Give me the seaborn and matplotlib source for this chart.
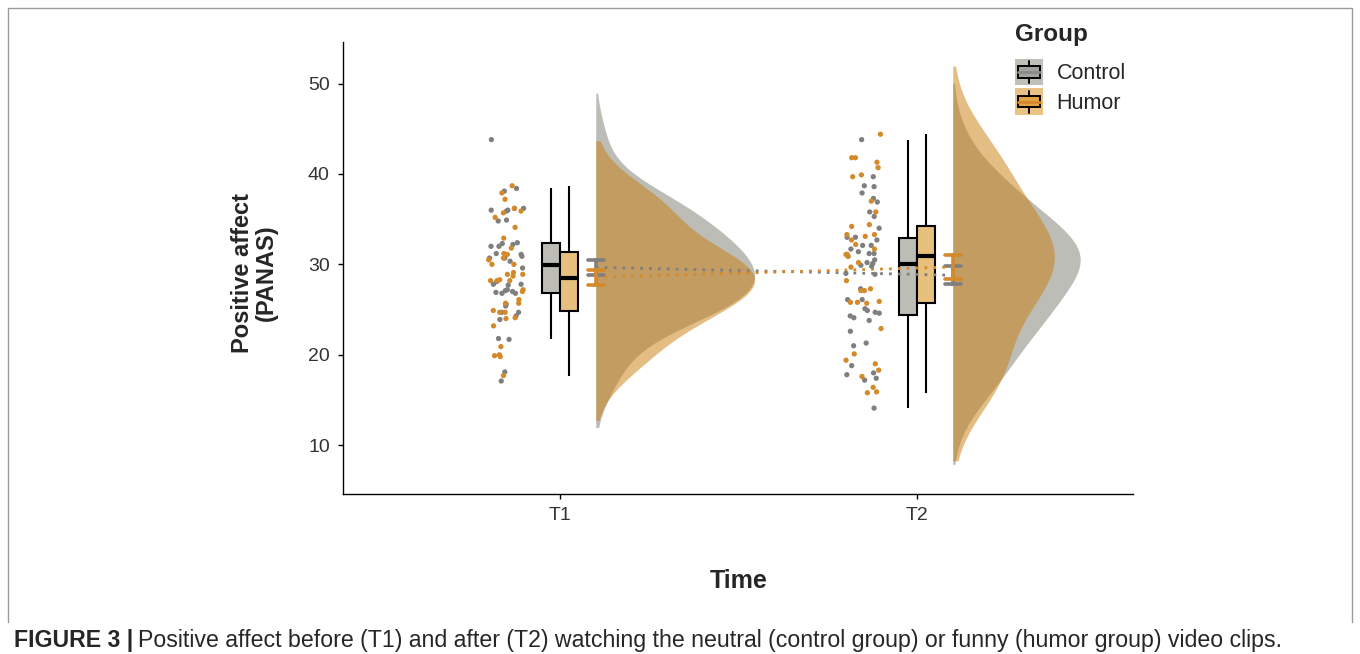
import numpy as np
import pandas as pd
import matplotlib
matplotlib.use("Agg")
import matplotlib.pyplot as plt
from matplotlib.legend_handler import HandlerBase
from matplotlib.patches import Rectangle, Patch
from matplotlib.lines import Line2D
import seaborn as sns

# ------------------------------------------
# Data (PANAS positive affect)
# ------------------------------------------
times = ["T1", "T2"]
groups = ["Control", "Humor"]

control_t1 = [43.8, 38.4, 38.1, 36.2, 36.2, 36.0, 35.9, 36.0, 34.8, 34.9, 32.2,
              32.4, 32.3, 32.0, 32.0, 31.1, 31.2, 30.7, 30.9, 30.7, 30.35, 29.6,
              28.1, 27.7, 27.8, 27.8, 27.2, 26.8, 27.0, 27.1, 26.9, 25.6, 26.8,
              25.4, 24.7, 24.7, 24.3, 23.9, 21.7, 21.8, 18.1, 17.1]
humor_t1 = [38.7, 37.9, 37.2, 36.2, 35.7, 35.9, 35.2, 34.1, 32.9, 31.2, 31.8,
            31.1, 30.7, 30.5, 30.0, 30.0, 28.9, 29.1, 28.9, 28.7, 28.2, 28.3,
            28.2, 28.2, 27.2, 27.0, 26.1, 25.7, 25.7, 24.9, 24.7, 24.7, 24.1,
            24.0, 23.2, 20.9, 19.8, 20.0, 19.9, 17.7]
control_t2 = [43.8, 39.7, 38.6, 38.7, 37.9, 37.3, 36.9, 35.8, 35.3, 34.0, 33.0,
              32.7, 33.0, 32.1, 31.2, 32.1, 31.7, 31.2, 30.9, 31.4, 30.5, 29.9,
              30.2, 29.8, 28.9, 30.1, 29.0, 27.3, 26.1, 26.1, 25.1, 24.9, 24.7,
              24.6, 24.3, 24.1, 23.8, 22.6, 21.0, 21.3, 18.8, 18.0, 17.4, 17.8,
              17.2, 14.1]
humor_t2 = [44.4, 41.8, 41.8, 41.3, 40.7, 39.7, 39.9, 37.0, 35.8, 34.2, 34.4,
            33.3, 33.1, 32.7, 33.3, 32.2, 31.7, 31.1, 31.1, 30.2, 30.9, 29.7,
            28.2, 27.1, 27.3, 27.1, 25.8, 25.8, 25.7, 25.9, 22.9, 20.1, 19.4,
            19.0, 18.3, 17.6, 16.4, 15.9, 15.8]

y_ticks = [10, 20, 30, 40, 50]

# colours
dot_colors = {"Control": "#7f7f7f", "Humor": "#d4892a"}
box_colors = {"Control": "#bdbdb6", "Humor": "#e6c07c"}
cloud_colors = {"_a": "white", "Control": "#7d7d70", "_b": "white", "Humor": "#c87d0a"}

# ------------------------------------------
# Long table
# ------------------------------------------
series = {("T1", "Control"): control_t1, ("T1", "Humor"): humor_t1,
          ("T2", "Control"): control_t2, ("T2", "Humor"): humor_t2}
rows = []
for (t, g), vals in series.items():
    for v in vals:
        rows.append({"time": t, "tpos": times.index(t), "group": g, "value": v})
data = pd.DataFrame(rows)

cloud_w = 0.445
data["strip_x"] = data["tpos"] - 0.15
data["mean_x"] = data["tpos"] + 0.10
data["cloud_x"] = data["tpos"] + 0.10 + cloud_w / 2

# ------------------------------------------
# Figure
# ------------------------------------------
sns.set_style("ticks")
plt.rcParams["font.family"] = ["Liberation Sans", "DejaVu Sans"]
plt.rcParams["lines.dotted_pattern"] = [1, 2.2]

fig = plt.figure(figsize=(13.6, 6.54), dpi=100)
ax = fig.add_axes([343 / 1360, 1 - 494 / 654, 790 / 1360, 452 / 654])

# half violins (clouds), both on the right side
sns.violinplot(data=data, x="cloud_x", y="value", hue="group",
               hue_order=["_a", "Control", "_b", "Humor"], palette=cloud_colors,
               split=True, dodge=False, native_scale=True, inner=None,
               linewidth=0, width=cloud_w, density_norm="area", cut=1.7,
               bw_adjust=1.15, saturation=1, alpha=0.5, legend=False, ax=ax)

# boxes
sns.boxplot(data=data, x="tpos", y="value", hue="group", hue_order=groups,
            palette=box_colors, native_scale=True, width=0.1, dodge=True,
            showfliers=False, showcaps=False, saturation=1,
            linecolor="black", linewidth=1.5,
            medianprops={"linewidth": 3}, legend=False, ax=ax)

# raw points
np.random.seed(7)
sns.stripplot(data=data, x="strip_x", y="value", hue="group", hue_order=groups,
              palette=dot_colors, native_scale=True, jitter=0.05, dodge=False,
              size=3.8, linewidth=0, legend=False, ax=ax)

# means +/- SE with dotted connecting lines
sns.pointplot(data=data, x="mean_x", y="value", hue="group", hue_order=groups,
              palette=dot_colors, native_scale=True, dodge=False,
              errorbar="se", capsize=0.045, markers="", linestyles=":",
              linewidth=2, err_kws={"linewidth": 2.6, "linestyle": "-"},
              legend=False, ax=ax)

ax.set_xlim(-0.608, 1.605)
ax.set_ylim(4.6, 54.6)
ax.set_xticks([0, 1])
ax.set_xticklabels(times)
ax.set_yticks(y_ticks)
ax.set_xlabel("")
ax.set_ylabel("")
sns.despine(ax=ax)
for s in ["left", "bottom"]:
    ax.spines[s].set_color("black")
    ax.spines[s].set_linewidth(1.0)
ax.tick_params(axis="both", length=3.5, width=1.0, color="black",
               labelsize=14, labelcolor="#333333", pad=6)

fig.text(254 / 1360, 1 - 273 / 654, "Positive affect\n(PANAS)", rotation=90,
         ha="center", va="center", fontsize=17, fontweight="bold",
         linespacing=1.05, multialignment="center")
fig.text(739 / 1360, 1 - 581 / 654, "Time", ha="center", va="center",
         fontsize=18, fontweight="bold")


# ------------------------------------------
# Legend with box-style keys
# ------------------------------------------
class BoxKey(HandlerBase):
    def __init__(self, bg, fill, line):
        super().__init__()
        self.bg, self.fill, self.line = bg, fill, line

    def create_artists(self, legend, orig_handle, xdescent, ydescent,
                       width, height, fontsize, trans):
        x0, y0 = -xdescent, -ydescent
        bg = Rectangle((x0, y0), width, height, facecolor=self.bg,
                       edgecolor="none", transform=trans)
        bw, bh = width * 0.8, height * 0.45
        bx, by = x0 + (width - bw) / 2, y0 + (height - bh) / 2
        box = Rectangle((bx, by), bw, bh, facecolor=self.fill,
                        edgecolor="black", lw=1.4, transform=trans)
        cx = x0 + width / 2
        w1 = Line2D([cx, cx], [y0 + height * 0.08, by], color="black", lw=1.4, transform=trans)
        w2 = Line2D([cx, cx], [by + bh, y0 + height * 0.92], color="black", lw=1.4, transform=trans)
        med = Line2D([bx, bx + bw], [y0 + height / 2] * 2, color=self.line, lw=2, transform=trans)
        return [bg, box, w1, w2, med]


h_c = Patch(label="Control")
h_h = Patch(label="Humor")
leg = fig.legend(handles=[h_c, h_h], labels=groups, title="Group",
                 loc="upper left", bbox_to_anchor=(1004 / 1360, 1 - 12 / 654),
                 frameon=False, fontsize=15.5,
                 title_fontproperties={"weight": "bold", "size": 17.5},
                 handlelength=1.3, handleheight=1.5, handletextpad=0.65,
                 labelspacing=0.15, borderpad=0, alignment="left",
                 handler_map={h_c: BoxKey("#c0c0bb", "#a3a39e", "#8a8a86"),
                              h_h: BoxKey("#e8c383", "#e0a447", "#d4892a")})
leg._legend_box.sep = 9.5

# ------------------------------------------
# Frame and caption
# ------------------------------------------
fx0, fx1, fy0, fy1 = 8 / 1360, 1352 / 1360, 1 - 8 / 654, 1 - 622 / 654
fig.add_artist(Line2D([fx0, fx0, fx1, fx1], [fy1, fy0, fy0, fy1],
                      transform=fig.transFigure, color="#9a9a9a", lw=1))

cap_y = 1 - 640 / 654
t_bold = fig.text(14 / 1360, cap_y, "FIGURE 3 |", fontsize=16.7,
                  fontweight="bold", va="center", ha="left")
fig.canvas.draw()
bb = t_bold.get_window_extent(renderer=fig.canvas.get_renderer())
fig.text((bb.x1 + 5) / 1360, cap_y,
         "Positive affect before (T1) and after (T2) watching the neutral "
         "(control group) or funny (humor group) video clips.",
         fontsize=16.7, va="center", ha="left")

fig.savefig("out.png", dpi=100)
